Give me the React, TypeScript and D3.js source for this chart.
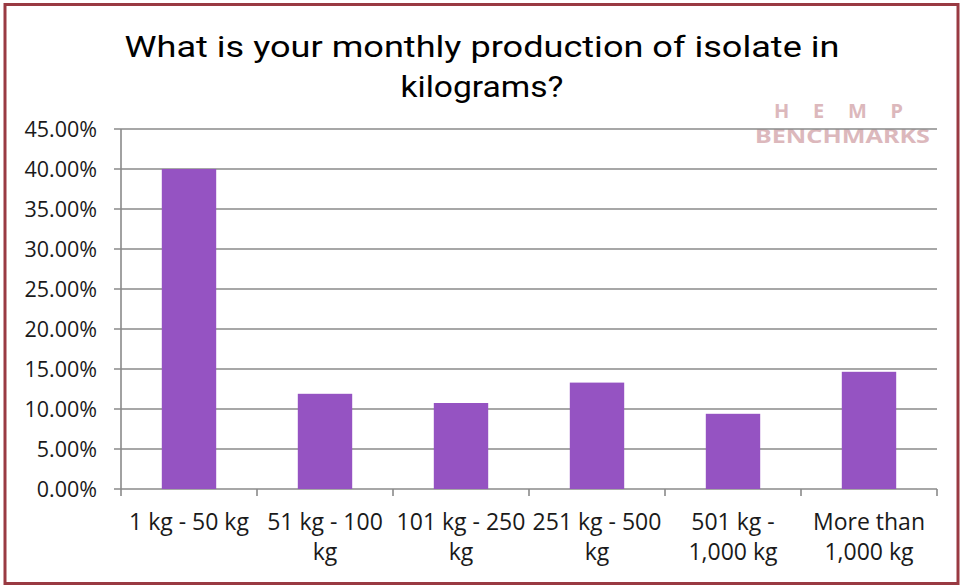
import React from "react";
import * as d3 from "d3";

const categories: string[][] = [
  ["1 kg - 50 kg"],
  ["51 kg - 100", "kg"],
  ["101 kg - 250", "kg"],
  ["251 kg - 500", "kg"],
  ["501 kg -", "1,000 kg"],
  ["More than", "1,000 kg"],
];
const values = [0.4, 0.119, 0.1075, 0.133, 0.094, 0.1465];
const yTicks = [0, 0.05, 0.1, 0.15, 0.2, 0.25, 0.3, 0.35, 0.4, 0.45];

const W = 961, H = 586;
const left = 121, right = 937, top = 129, bottom = 489;
const labelFont = "'Open Sans', sans-serif";

export default function App() {
  const x = d3.scaleBand<number>().domain(d3.range(categories.length)).range([left, right]).paddingInner(0.6).paddingOuter(0.3);
  const step = (right - left) / categories.length;
  const y = d3.scaleLinear().domain([0, 0.45]).range([bottom, top]);
  const fmt = (v: number) => (v * 100).toFixed(2) + "%";
  return (
    <svg width={W} height={H} style={{ position: "absolute", left: 0, top: 0 }}>
      <rect x={0} y={0} width={W} height={H} fill="#fff" />
      <rect x={5} y={4.5} width={953} height={579} fill="none" stroke="#993a42" strokeWidth={3} />
      <text x={482} y={57} textAnchor="middle" fontFamily="Roboto, sans-serif" fontSize={30} fill="#000" textLength={715} lengthAdjust="spacingAndGlyphs">What is your monthly production of isolate in</text>
      <text x={482} y={97} textAnchor="middle" fontFamily="Roboto, sans-serif" fontSize={30} fill="#000" textLength={163} lengthAdjust="spacingAndGlyphs">kilograms?</text>
      {/* watermark */}
      <g fill="#dcb8bc" fontFamily="'Noto Sans', sans-serif" fontWeight="bold">
        <text x={774} y={118} fontSize={20} textLength={129} lengthAdjust="spacing">HEMP</text>
        <text x={755} y={143} fontSize={20} textLength={175} lengthAdjust="spacingAndGlyphs">BENCHMARKS</text>
      </g>
      {yTicks.map((t) => (
        <g key={t}>
          <line x1={114} x2={right} y1={y(t)} y2={y(t)} stroke="#8a8a8a" strokeWidth={1.6} />
          <text x={97} y={y(t) + 8} textAnchor="end" fontFamily={labelFont} fontSize={21.5} fill="#1a1a1a">{fmt(t)}</text>
        </g>
      ))}
      <line x1={left} x2={left} y1={top} y2={bottom} stroke="#8a8a8a" strokeWidth={1.6} />
      {d3.range(categories.length + 1).map((i) => (
        <line key={i} x1={left + i * step} x2={left + i * step} y1={bottom} y2={bottom + 7} stroke="#8a8a8a" strokeWidth={1.6} />
      ))}
      {values.map((v, i) => (
        <rect key={i} x={x(i)} y={y(v)} width={x.bandwidth()} height={bottom - y(v)} fill="#9553c2" />
      ))}
      {categories.map((lines, i) => (
        <text key={i} textAnchor="middle" fontFamily={labelFont} fontSize={23} fill="#1a1a1a">
          {lines.map((l, j) => (
            <tspan key={j} x={left + (i + 0.5) * step} y={530 + j * 30}>{l}</tspan>
          ))}
        </text>
      ))}
    </svg>
  );
}
